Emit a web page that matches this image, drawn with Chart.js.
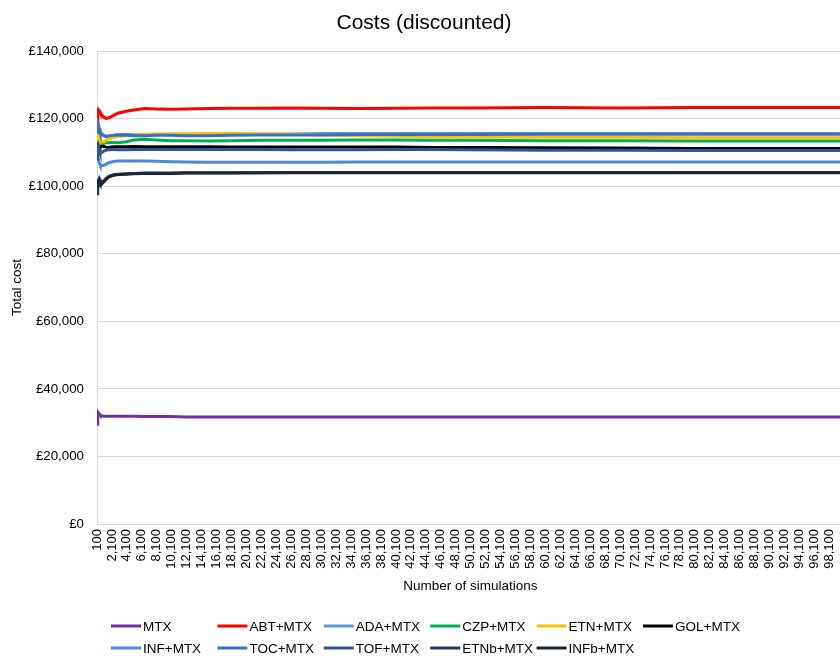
<!DOCTYPE html>
<html>
<head>
<meta charset="utf-8">
<script src="https://cdn.jsdelivr.net/npm/chart.js@4.4.1/dist/chart.umd.min.js"></script>
<style>
  html, body { margin: 0; padding: 0; background: #ffffff; overflow: hidden; }
  #wrap { width: 850px; height: 656px; }
</style>
</head>
<body>
<div id="wrap"><canvas id="c" width="850" height="656"></canvas></div>
<script>
// ---- Data ----
const simulations = [100, 200, 300, 400, 500, 700, 1000, 1300, 1600, 2000, 2500, 3000, 4000, 5000, 6500, 8000,
  10000, 12000, 15000, 18000, 22000, 26000, 30000, 35000, 40000, 45000, 50000, 60000, 70000, 80000, 90000, 100000];

const seriesNames = ["MTX", "ABT+MTX", "ADA+MTX", "CZP+MTX", "ETN+MTX", "GOL+MTX",
  "INF+MTX", "TOC+MTX", "TOF+MTX", "ETNb+MTX", "INFb+MTX"];

const mtx  = [29500, 33200, 32900, 32600, 32300, 32100, 31900, 31900, 31900, 31900, 31900, 31900, 31900, 31900, 31800, 31800,
  31800, 31700, 31700, 31700, 31700, 31700, 31700, 31700, 31700, 31700, 31700, 31700, 31700, 31700, 31700, 31700];
const abt  = [117500, 121800, 122700, 122400, 121900, 121200, 120500, 120100, 120200, 120600, 121200, 121700, 122200, 122600, 123000, 122900,
  122800, 122900, 123000, 123100, 123100, 123200, 123100, 123000, 123100, 123200, 123200, 123300, 123200, 123300, 123300, 123300];
const ada  = [113000, 116500, 117500, 116800, 116000, 115300, 114900, 114700, 114800, 115000, 115200, 115300, 115300, 115300, 115400, 115400,
  115400, 115400, 115500, 115500, 115500, 115500, 115600, 115600, 115600, 115600, 115600, 115600, 115600, 115600, 115600, 115600];
const czp  = [111500, 112800, 113400, 113000, 112700, 112500, 112700, 112900, 112900, 113000, 113000, 112900, 113200, 113700, 113900, 113700,
  113500, 113500, 113400, 113500, 113600, 113600, 113600, 113700, 113700, 113600, 113600, 113500, 113500, 113400, 113400, 113400];
const etn  = [112500, 114800, 115600, 114600, 113800, 113200, 113100, 113600, 114000, 114300, 114600, 114800, 115000, 115200, 115300, 115400,
  115500, 115500, 115600, 115600, 115500, 115400, 115200, 115000, 114800, 114700, 114600, 114500, 114500, 114400, 114400, 114400];
const gol  = [113000, 111500, 110900, 111300, 111600, 111900, 111800, 111600, 111500, 111600, 111700, 111700, 111700, 111800, 111700, 111700,
  111700, 111700, 111700, 111600, 111600, 111600, 111600, 111600, 111600, 111500, 111500, 111400, 111300, 111200, 111200, 111200];
const inf  = [109000, 108500, 107800, 107000, 106400, 106100, 106200, 106500, 106900, 107200, 107400, 107500, 107500, 107500, 107500, 107400,
  107300, 107200, 107100, 107100, 107100, 107100, 107100, 107200, 107200, 107200, 107200, 107200, 107200, 107200, 107200, 107200];
const toc  = [116000, 118800, 118200, 117200, 116300, 115600, 115100, 114800, 114900, 115000, 115100, 115200, 115100, 115000, 115000, 115100,
  115100, 115000, 115000, 115100, 115200, 115200, 115200, 115300, 115300, 115300, 115300, 115400, 115400, 115400, 115400, 115400];
const tof  = [108000, 110500, 111800, 111000, 110200, 110000, 110400, 110700, 110800, 110900, 110900, 110800, 110800, 110900, 110900, 110900,
  110900, 110900, 110900, 110900, 110900, 110800, 110800, 110800, 110900, 110900, 110800, 110700, 110700, 110600, 110600, 110600];
const etnb = [97800, 100500, 101800, 102300, 101800, 101200, 101500, 102300, 102800, 103200, 103500, 103600, 103700, 103800, 103900, 103900,
  103900, 104000, 104000, 104000, 104000, 104100, 104100, 104100, 104100, 104100, 104100, 104100, 104100, 104100, 104100, 104100];
const infb = [101000, 99500, 100800, 101500, 101000, 100600, 101300, 102000, 102600, 103000, 103300, 103500, 103600, 103700, 103800, 103800,
  103800, 103900, 103900, 103900, 104000, 104000, 104000, 104000, 104000, 104000, 104000, 104000, 104000, 104000, 104000, 104000];

const xTickValues = [100, 2100, 4100, 6100, 8100, 10100, 12100, 14100, 16100, 18100, 20100, 22100, 24100, 26100, 28100,
  30100, 32100, 34100, 36100, 38100, 40100, 42100, 44100, 46100, 48100, 50100, 52100, 54100, 56100, 58100, 60100,
  62100, 64100, 66100, 68100, 70100, 72100, 74100, 76100, 78100, 80100, 82100, 84100, 86100, 88100, 90100, 92100,
  94100, 96100, 98100];
const yTickValues = [0, 20000, 40000, 60000, 80000, 100000, 120000, 140000];

// ---- Styling ----
const seriesValues = [mtx, abt, ada, czp, etn, gol, inf, toc, tof, etnb, infb];
const seriesColors = ["#7030A0", "#FF0000", "#5B9BD5", "#00B050", "#FFC000", "#000000",
  "#4A8AD6", "#3C6EBE", "#2F5597", "#1F3864", "#1B2636"];
const FONT = "'Liberation Sans', Arial, sans-serif";

const datasets = seriesValues.map((vals, i) => ({
  label: seriesNames[i],
  data: vals.map((v, k) => ({ x: simulations[k], y: v })),
  borderColor: seriesColors[i],
  backgroundColor: seriesColors[i],
  borderWidth: 3,
  pointRadius: 0,
  tension: 0,
  fill: false,
  order: seriesValues.length - i
}));

const legendPlugin = {
  id: 'gridLegend',
  afterDraw(chart) {
    const ctx = chart.ctx;
    ctx.save();
    ctx.font = "13.5px " + FONT;
    ctx.textBaseline = 'middle';
    ctx.textAlign = 'left';
    chart.data.datasets.forEach((ds, i) => {
      const row = i < 6 ? 0 : 1;
      const col = i < 6 ? i : i - 6;
      const x = 111 + col * 106.4;
      const y = row === 0 ? 626 : 648;
      ctx.strokeStyle = ds.borderColor;
      ctx.lineWidth = 3;
      ctx.beginPath();
      ctx.moveTo(x, y);
      ctx.lineTo(x + 30, y);
      ctx.stroke();
      ctx.fillStyle = '#000000';
      ctx.fillText(ds.label, x + 32, y + 1);
    });
    ctx.restore();
  }
};

new Chart(document.getElementById('c'), {
  type: 'line',
  data: { datasets },
  plugins: [legendPlugin],
  options: {
    responsive: false,
    animation: false,
    devicePixelRatio: 1,
    layout: { padding: { left: 0, right: 2, top: 0, bottom: 56 } },
    plugins: {
      legend: { display: false },
      tooltip: { enabled: false },
      title: {
        display: true,
        text: 'Costs (discounted)',
        color: '#000000',
        font: { family: FONT, size: 21, weight: 'normal' },
        padding: { top: 11, bottom: 15 }
      }
    },
    scales: {
      x: {
        type: 'linear',
        min: 100,
        max: 100000,
        afterBuildTicks(scale) { scale.ticks = xTickValues.map(v => ({ value: v })); },
        afterFit(scale) { scale.height = 76; },
        grid: { display: false, drawTicks: false },
        border: { display: true, color: '#D9D9D9', width: 1 },
        ticks: {
          autoSkip: false,
          minRotation: 90,
          maxRotation: 90,
          padding: 5,
          color: '#000000',
          font: { family: FONT, size: 13 },
          callback: (v) => Number(v).toLocaleString('en-GB')
        },
        title: {
          display: true,
          text: 'Number of simulations',
          color: '#000000',
          font: { family: FONT, size: 13.5 },
          padding: { top: 0, bottom: 6 }
        }
      },
      y: {
        min: 0,
        max: 140000,
        afterBuildTicks(scale) { scale.ticks = yTickValues.map(v => ({ value: v })); },
        afterFit(scale) { scale.width = 97; },
        grid: { color: '#D9D9D9', drawTicks: false, lineWidth: 1 },
        border: { display: true, color: '#D9D9D9', width: 1 },
        ticks: {
          padding: 13,
          color: '#000000',
          font: { family: FONT, size: 13.3 },
          callback: (v) => '£' + Number(v).toLocaleString('en-GB')
        },
        title: {
          display: true,
          text: 'Total cost',
          color: '#000000',
          font: { family: FONT, size: 13.5 },
          padding: { top: 9, bottom: 0 }
        }
      }
    }
  }
});
</script>
</body>
</html>
